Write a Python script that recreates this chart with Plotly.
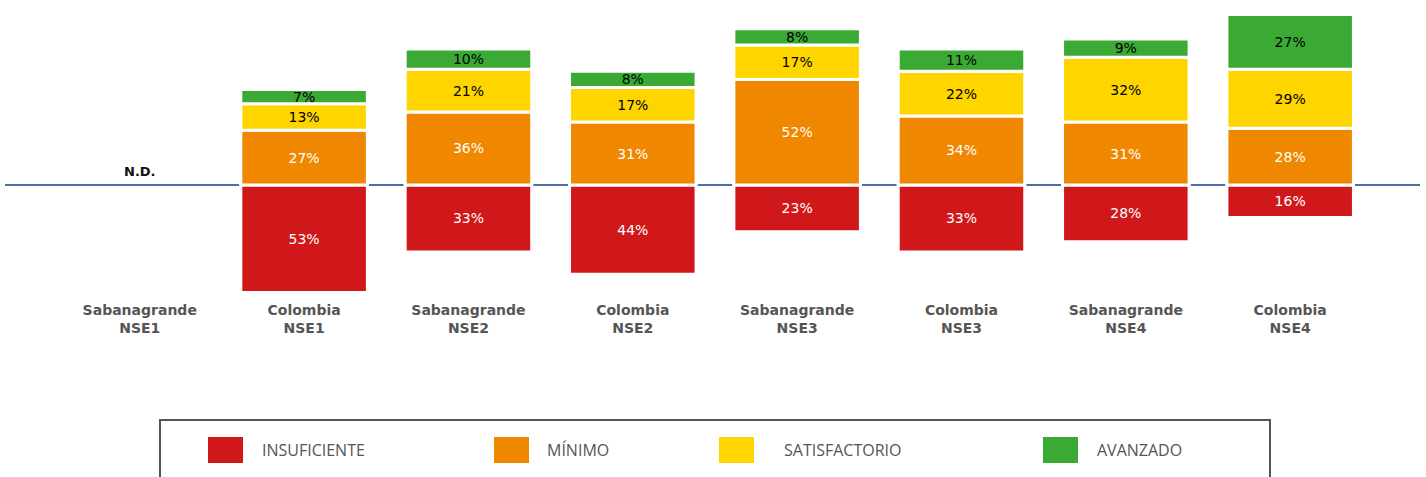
import plotly.graph_objects as go

# categories (x positions 0..7)
categorias = ["Sabanagrande<br>NSE1", "Colombia<br>NSE1", "Sabanagrande<br>NSE2", "Colombia<br>NSE2",
              "Sabanagrande<br>NSE3", "Colombia<br>NSE3", "Sabanagrande<br>NSE4", "Colombia<br>NSE4"]

# percentages per level (None = no data)
insuficiente = [None, 53, 33, 44, 23, 33, 28, 16]
minimo = [None, 27, 36, 31, 52, 34, 31, 28]
satisfactorio = [None, 13, 21, 17, 17, 22, 32, 29]
avanzado = [None, 7, 10, 8, 8, 11, 9, 27]

niveles = ["INSUFICIENTE", "MÍNIMO", "SATISFACTORIO", "AVANZADO"]
colores = ["#d0181b", "#f08700", "#ffd500", "#3aaa35"]
texto_color = ["white", "white", "black", "black"]

W, H = 1426, 477
ML, MR, MT, MB = 5, 6, 5, 177
PW, PH = W - ML - MR, H - MT - MB


def px_x(x):
    return (x - ML) / PW


def px_y(y):
    return 1 - (y - MT) / PH


xs = list(range(len(categorias)))
fig = go.Figure()

series = [insuficiente, minimo, satisfactorio, avanzado]
for i, vals in enumerate(series):
    y = [(-v if i == 0 else v) if v is not None else None for v in vals]
    txt = [f"{v}%" if v is not None else "" for v in vals]
    fig.add_trace(go.Bar(
        x=xs, y=y, name=niveles[i], text=txt, textposition="inside",
        insidetextanchor="middle", textangle=0,
        textfont=dict(family="DejaVu Sans", size=14, color=texto_color[i]),
        marker=dict(color=colores[i], line=dict(color="white", width=3)),
        width=0.77, showlegend=False, hoverinfo="skip",
    ))

fig.add_annotation(x=0, y=0, text="<b>N.D.</b>", showarrow=False, yanchor="bottom", yshift=4,
                   font=dict(family="DejaVu Sans", size=13, color="#111"))

# legend drawn by hand (big swatches)
fig.add_shape(type="rect", xref="paper", yref="paper", x0=px_x(160), x1=px_x(1270),
              y0=px_y(420), y1=px_y(490), line=dict(color="#555", width=2), fillcolor="white")
sw_x = [208, 494, 719, 1043]
tx_x = [260, 545, 782, 1095]
for i in range(4):
    fig.add_shape(type="rect", xref="paper", yref="paper", x0=px_x(sw_x[i]), x1=px_x(sw_x[i] + 35),
                  y0=px_y(463), y1=px_y(437), line=dict(width=0), fillcolor=colores[i])
    fig.add_annotation(xref="paper", yref="paper", x=px_x(tx_x[i]), y=px_y(450), text=niveles[i],
                       showarrow=False, xanchor="left", yanchor="middle",
                       font=dict(family="Open Sans", size=16, color="#555"))

fig.update_layout(
    width=W, height=H, barmode="relative",
    margin=dict(l=ML, r=MR, t=MT, b=MB),
    plot_bgcolor="white", paper_bgcolor="white",
    uniformtext=dict(minsize=14, mode="show"),
    xaxis=dict(range=[-0.82, 7.79], tickvals=xs, ticktext=[f"<b>{c}</b>" for c in categorias],
               showgrid=False, zeroline=False, showline=False, ticks="",
               tickfont=dict(family="DejaVu Sans", size=14, color="#555")),
    yaxis=dict(range=[-56.7, 88.7], showgrid=False, showticklabels=False, ticks="",
               zeroline=True, zerolinecolor="#4a6ea8", zerolinewidth=2),
)

fig.write_html("out.html", config={"displayModeBar": False},
               post_script="document.body.style.margin='0';")
